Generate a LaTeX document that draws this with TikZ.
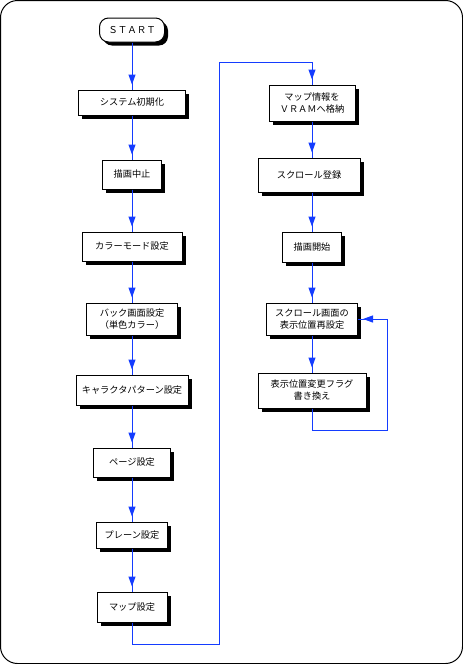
\documentclass[tikz,border=0pt]{standalone}
\usepackage{fontspec}
\newfontfamily\jp{Noto Sans CJK JP}
\usetikzlibrary{arrows.meta,shadows}
\definecolor{flowblue}{RGB}{20,60,255}
\begin{document}
\begin{tikzpicture}[x=1pt,y=-1pt,
  box/.style={draw=black, line width=1pt, fill=white, align=center,
    font=\jp\fontsize{9.2}{12}\selectfont, inner sep=0pt,
    drop shadow={shadow xshift=3.5pt, shadow yshift=-3.5pt, fill=black, opacity=1}},
  conn/.style={draw=flowblue, line width=1pt,
    postaction={draw=flowblue, line width=1pt, shorten >=5pt, -{Triangle[width=7pt,length=10pt]}}},
  frame/.style={draw=black, line width=1pt, rounded corners=17pt}]
\useasboundingbox (0,0) rectangle (463,664);
\draw[frame] (0.5,0.5) rectangle (462.5,663.5);

\node[box, rounded corners=9pt, minimum width=65pt, minimum height=24pt, font=\jp\fontsize{9.5}{12}\selectfont] (start) at (132,30) {ＳＴＡＲＴ};
\node[box, minimum width=107pt, minimum height=25pt] (b1) at (132,102.5) {システム初期化};
\node[box, minimum width=59pt, minimum height=29pt] (b2) at (132,174.5) {描画中止};
\node[box, minimum width=100pt, minimum height=29pt] (b3) at (132,246.5) {カラーモード設定};
\node[box, minimum width=91pt, minimum height=32pt] (b4) at (132,319) {バック画面設定\\（単色カラー）};
\node[box, minimum width=112pt, minimum height=30pt] (b5) at (132,390) {キャラクタパターン設定};
\node[box, minimum width=77pt, minimum height=29pt] (b6) at (132,462.5) {ページ設定};
\node[box, minimum width=71pt, minimum height=26pt] (b7) at (132,535) {プレーン設定};
\node[box, minimum width=70pt, minimum height=30pt] (b8) at (132,607) {マップ設定};

\node[box, minimum width=86pt, minimum height=36pt] (b9) at (312,103) {マップ情報を\\ＶＲＡＭへ格納};
\node[box, minimum width=102pt, minimum height=34pt] (b10) at (309,175) {スクロール登録};
\node[box, minimum width=59pt, minimum height=30pt] (b11) at (312,247) {描画開始};
\node[box, minimum width=91pt, minimum height=32pt] (b12) at (312,319) {スクロール画面の\\表示位置再設定};
\node[box, minimum width=108pt, minimum height=35pt] (b13) at (312,390.5) {表示位置変更フラグ\\書き換え};

\coordinate (m1) at (219,644);
\coordinate (m2) at (312,62);
\coordinate (l1) at (387,430);

\draw[conn] (start.south) -- (b1.north);
\draw[conn] (b1.south) -- (b2.north);
\draw[conn] (b2.south) -- (b3.north);
\draw[conn] (b3.south) -- (b4.north);
\draw[conn] (b4.south) -- (b5.north);
\draw[conn] (b5.south) -- (b6.north);
\draw[conn] (b6.south) -- (b7.north);
\draw[conn] (b7.south) -- (b8.north);
\draw[conn] (b8.south) |- (m1) |- (m2) -- (b9.north);
\draw[conn] (b9.south) -- (b9.south |- b10.north);
\draw[conn] (b9.south |- b10.south) -- (b11.north);
\draw[conn] (b11.south) -- (b12.north);
\draw[conn] (b12.south) -- (b13.north);
\draw[conn] (b13.south) |- (l1) |- (b12.east);
\end{tikzpicture}
\end{document}
